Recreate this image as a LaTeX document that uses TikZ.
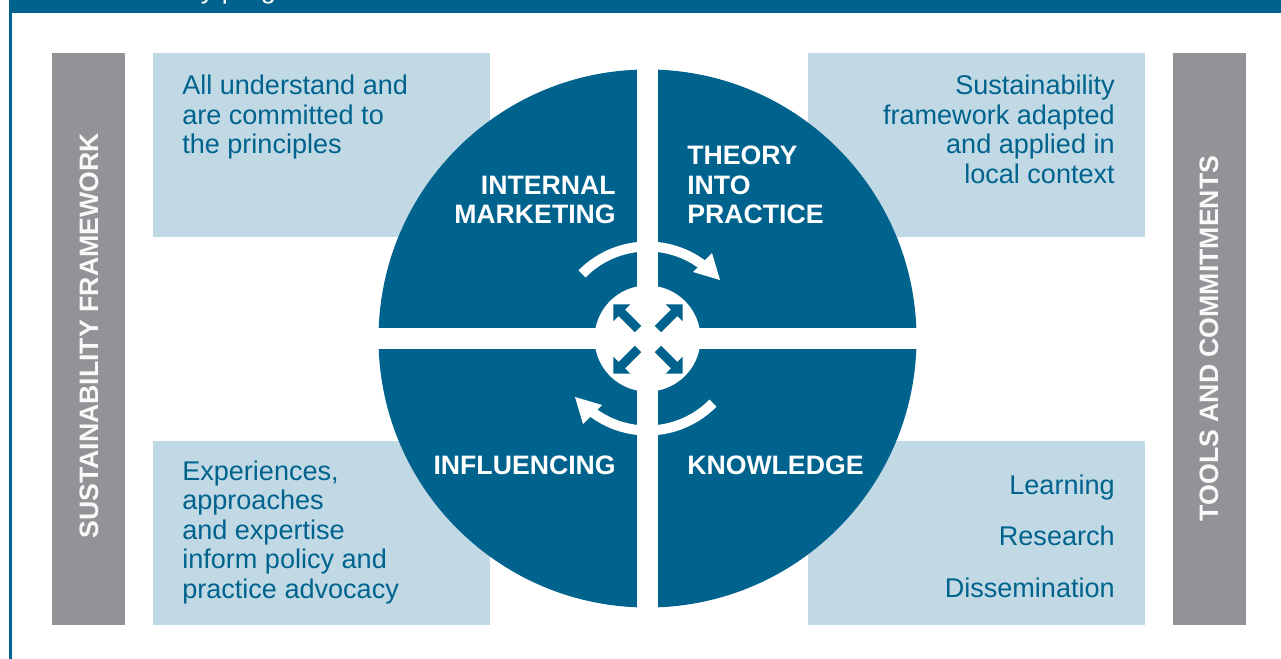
\documentclass[tikz,border=0pt]{standalone}
\usepackage{fontspec}
\setmainfont{Liberation Sans}
\definecolor{ink}{RGB}{0,99,142}
\definecolor{pale}{RGB}{193,217,228}
\definecolor{slate}{RGB}{146,147,150}

\begin{document}
\begin{tikzpicture}[x=0.75pt,y=-0.75pt,
  body/.style={inner sep=0pt, font=\fontsize{20.3}{24}\selectfont, text=ink},
  head/.style={inner sep=0pt, font=\fontsize{20}{24}\selectfont\bfseries, text=white},
  side/.style={inner sep=0pt, font=\fontsize{20}{24}\selectfont\bfseries,
               text=white!94!slate, rotate=90, anchor=base},
  panel/.style={fill=pale},
  band/.style={fill=slate},
  cycle/.style={white, line width=7.5pt, line cap=butt}]

\useasboundingbox (0,0) rectangle (1281,659);
\fill[white] (0,0) rectangle (1281,659);

% title bar (its caption runs off the top edge) and left rule
\begin{scope}
  \clip (9,0) rectangle (1281,13);
  \fill[ink] (9,0) rectangle (1281,13);
  \node[body, text=white, anchor=base west] (caption) at (172,-1) {key programme};
\end{scope}
\fill[ink] (9,13) rectangle (11.5,659);

% side bands
\fill[band] (52,53) rectangle (125,625);
\fill[band] (1173,53) rectangle (1246,625);
\node[side] (leftband) at (98,336) {SUSTAINABILITY FRAMEWORK};
\node[side] (rightband) at (1218,338.5) {TOOLS AND COMMITMENTS};

% corner panels
\fill[panel] (153,53) rectangle (490,237);
\fill[panel] (808,53) rectangle (1145,237);
\fill[panel] (153,441) rectangle (490,625);
\fill[panel] (808,441) rectangle (1145,625);

\foreach \t [count=\i from 0] in {All understand and, are committed to, the principles}
  \node[body, anchor=base west] (tl\i) at (182,95+29.5*\i) {\t};
\foreach \t [count=\i from 0] in {Sustainability, framework adapted, and applied in, local context}
  \node[body, anchor=base east] (tr\i) at (1115,95+29.5*\i) {\t};
\foreach \t [count=\i from 0] in {{Experiences,}, approaches, and expertise, inform policy and, practice advocacy}
  \node[body, anchor=base west] (bl\i) at (182,480+29.5*\i) {\t};
\foreach \t [count=\i from 0] in {Learning, Research, Dissemination}
  \node[body, anchor=base east] (br\i) at (1115,494+51.5*\i) {\t};

% the quartered disc
\coordinate (hub) at (647.5,338.5);
\fill[ink] (hub) circle[radius=269];
\fill[white] (637,69) rectangle (658,608);
\fill[white] (378,328) rectangle (917,349);
\fill[white] (hub) circle[radius=53];

% quadrant titles
\node[head, anchor=base east] (im0) at (616,195) {INTERNAL};
\node[head, anchor=base east] (im1) at (616,224) {MARKETING};
\node[head, anchor=base west] (tp0) at (687,165) {THEORY};
\node[head, anchor=base west] (tp1) at (687,194.5) {INTO};
\node[head, anchor=base west] (tp2) at (687,224) {PRACTICE};
\node[head, anchor=base east] (inf) at (616,474) {INFLUENCING};
\node[head, anchor=base west] (kno) at (687,474) {KNOWLEDGE};

% circulating arrows
\draw[cycle] (hub) ++(-135.4:92) arc[start angle=-135.4, end angle=-51, radius=92];
\fill[white] (720,280) -- (712,253) -- (693,272) -- cycle;
\draw[cycle] (hub) ++(44.6:92) arc[start angle=44.6, end angle=129, radius=92];
\fill[white] (575,397) -- (583,424) -- (602,405) -- cycle;

% outward arrows at the hub
\foreach \a in {45,135,225,315}
  \fill[ink, shift={(648,339)}, rotate=\a]
    (14,-4.5) -- (37,-4.5) -- (37,-12) -- (49,0) -- (37,12) -- (37,4.5) -- (14,4.5) -- cycle;

\end{tikzpicture}
\end{document}
